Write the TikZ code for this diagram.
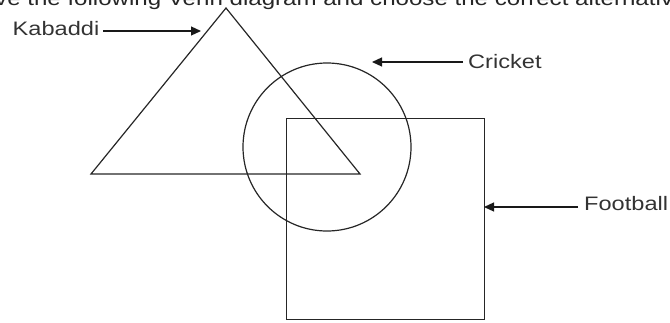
\documentclass[tikz,border=0pt]{standalone}
\usepackage{fontspec}
\setmainfont{Liberation Sans}
\usetikzlibrary{arrows.meta}
\newcommand{\wide}[2][1.21]{\scalebox{#1}[1]{#2}}
\begin{document}
\begin{tikzpicture}[x=1pt,y=-1pt,
  shape line/.style={line width=1.2pt,draw=black!85},
  label text/.style={inner sep=0pt,anchor=base west,font=\fontsize{19.5}{24}\selectfont,text=black!80},
  pointer/.style={line width=1.2pt,draw=black!90,-{Triangle[length=10pt,width=9pt]}}]
\useasboundingbox (0,0) rectangle (670,322);
\clip (0,0) rectangle (670,322);
% cut-off heading
\node[inner sep=0pt,anchor=base west,font=\fontsize{20}{24}\selectfont,text=black!85] (head) at (-5,5.5) {\wide[1.205]{ve the following Venn diagram and choose the correct alternative}};
% shapes
\coordinate (tA) at (226,8);
\coordinate (tB) at (91,174);
\coordinate (tC) at (360,174);
\draw[shape line] (tA) -- (tB) -- (tC) -- cycle;
\node[shape line,circle,minimum size=168pt,inner sep=0pt] (circ) at (327,147) {};
\node[shape line,rectangle,minimum width=198pt,minimum height=201pt,inner sep=0pt,anchor=north west] (sq) at (286,118) {};
% labels
\node[label text] (kab) at (12.5,35.7) {\wide{Kabaddi}};
\node[label text] (cri) at (468,68) {\wide{Cricket}};
\node[label text] (foot) at (584,210.7) {\wide{Football}};
\coordinate (kabtip) at (201,31);
\coordinate (critip) at (372,62);
\coordinate (foottip) at (484,207);
\draw[pointer,shorten <=4pt] (kab.east |- kabtip) -- (kabtip);
\draw[pointer,shorten <=5pt] (cri.west |- critip) -- (critip);
\draw[pointer,shorten <=6pt] (foot.west |- foottip) -- (foottip);
\end{tikzpicture}
\end{document}
